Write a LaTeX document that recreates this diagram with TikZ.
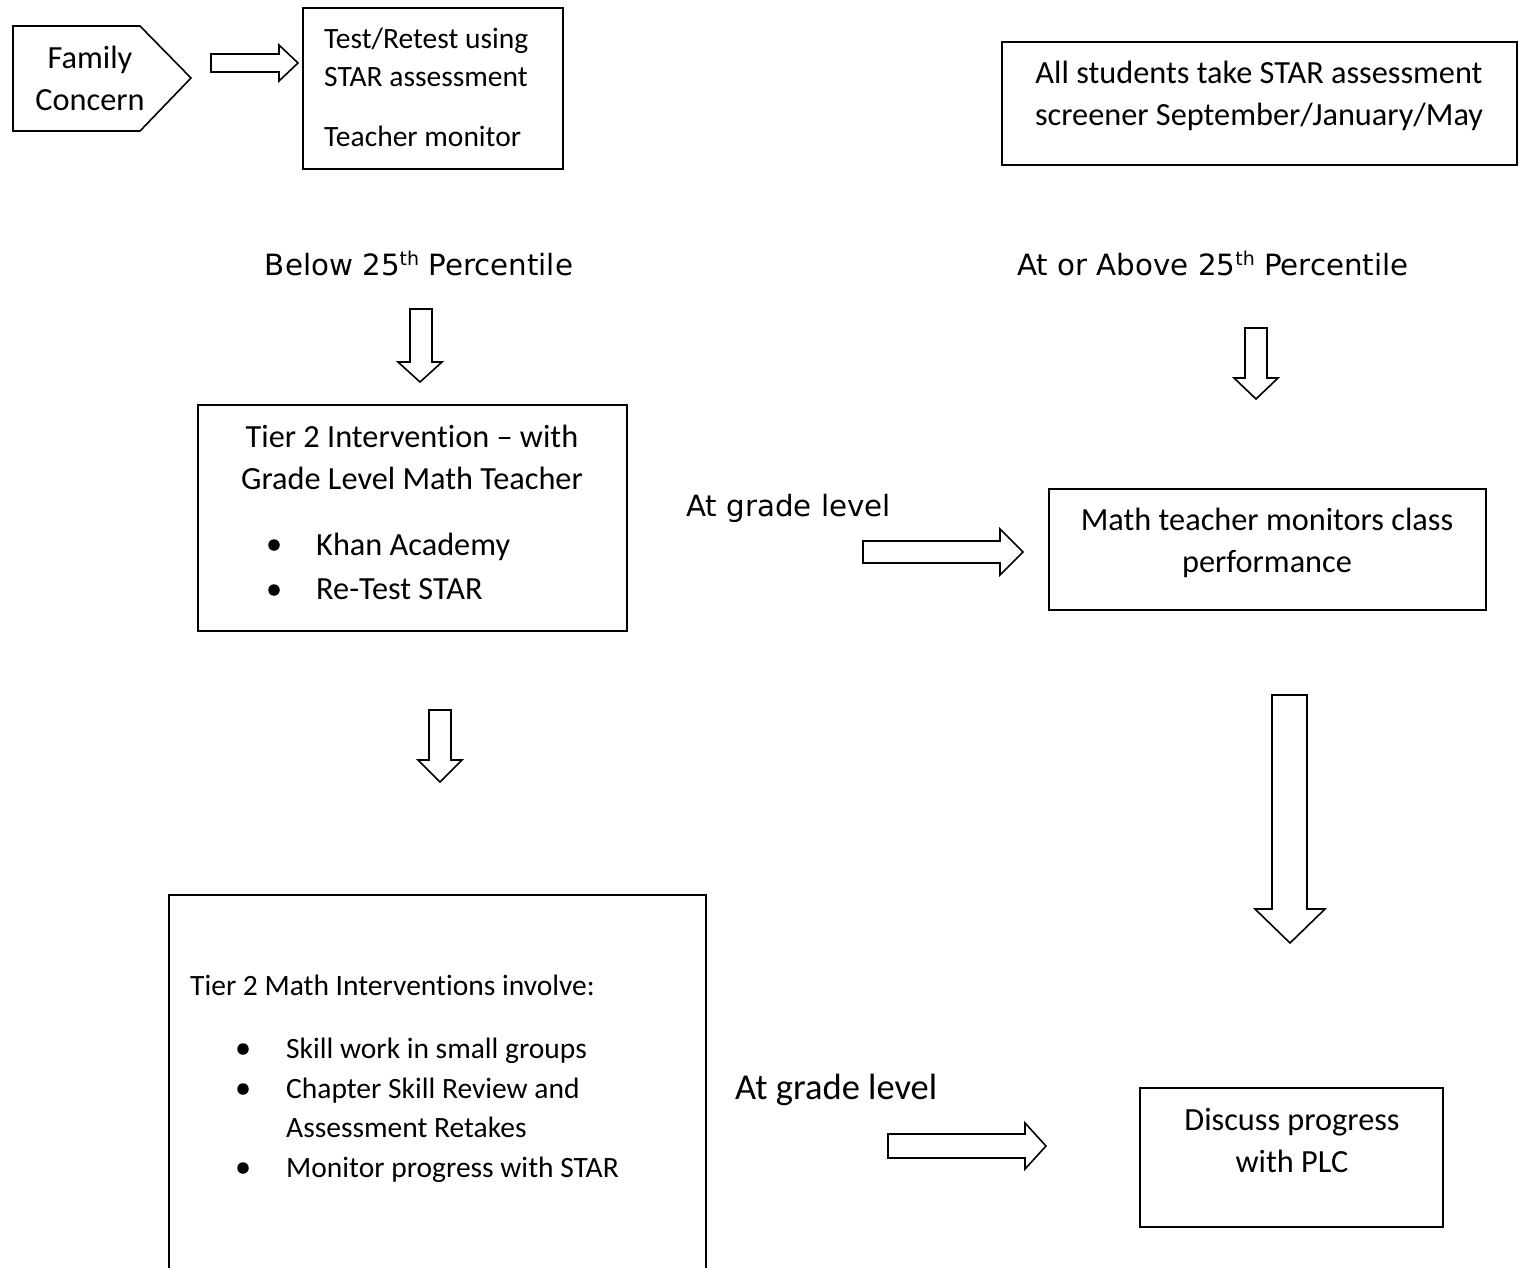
\documentclass[tikz,border=0pt]{standalone}
\usepackage{fontspec}
\setmainfont{Carlito}[Ligatures=CommonOff]
\newfontfamily\verd{DejaVu Sans}
\begin{document}
\begin{tikzpicture}[x=1pt,y=-1pt,
  box/.style={draw,line width=1.6pt,inner sep=0pt,minimum width=#1},
  blockarrow/.style={draw,line width=1.6pt,line join=miter},
  txt/.style={inner sep=0pt,font=\fontsize{32.3}{42}\selectfont},
  txts/.style={inner sep=0pt,font=\fontsize{29.5}{38}\selectfont},
  vtxt/.style={inner sep=0pt,font=\verd\fontsize{29.3}{34}\selectfont},
  bul/.style={circle,fill,inner sep=0pt,minimum size=11.5pt}]
\useasboundingbox (0,0) rectangle (1528,1267);
\clip (0,0) rectangle (1528,1267);

% Family Concern pentagon
\draw[blockarrow] (13,26) -- (140,26) -- (191,78) -- (140,131) -- (13,131) -- cycle;
\node[txt,anchor=base] (fam1) at (90,68) {Family};
\node[txt,anchor=base] (fam2) at (90,110) {Concern};

% small right arrow
\draw[blockarrow] (211,54) -- (279,54) -- (279,45) -- (298,63) -- (279,81) -- (279,72) -- (211,72) -- cycle;

% Test/Retest box
\node[box=260pt,minimum height=161pt] (test) at (433,88.5) {};
\node[txts,anchor=base west] (t1) at (324,48) {Test/Retest using};
\node[txts,anchor=base west] (t2) at (324,86) {STAR assessment};
\node[txts,anchor=base west] (t3) at (324,146) {Teacher monitor};

% All students box
\node[box=515pt,minimum height=123pt] (all) at (1259.5,103.5) {};
\node[txt,anchor=base] (a1) at (1259,83) {All students take STAR assessment};
\node[txt,anchor=base] (a2) at (1259,125) {screener September/January/May};

% labels
\node[vtxt,anchor=base] (below) at (419,275) {Below 25\raisebox{10pt}{\fontsize{19}{19}\selectfont th} Percentile};
\node[vtxt,anchor=base] (above) at (1213,275) {At or Above 25\raisebox{10pt}{\fontsize{19}{19}\selectfont th} Percentile};

% down arrow 1
\draw[blockarrow] (410,309) -- (432,309) -- (432,362) -- (442,362) -- (420,382) -- (398,362) -- (410,362) -- cycle;
% down arrow 2
\draw[blockarrow] (1245,328) -- (1267,328) -- (1267,378) -- (1278,378) -- (1256,399) -- (1234,378) -- (1245,378) -- cycle;

% Tier 2 Intervention box
\node[box=429pt,minimum height=226pt] (tier) at (412.5,518) {};
\node[txt,anchor=base] (ti1) at (412,447) {Tier 2 Intervention -- with};
\node[txt,anchor=base] (ti2) at (412,489) {Grade Level Math Teacher};
\node[bul] (b1) at (274,545) {};
\node[bul] (b2) at (274,590) {};
\node[txt,anchor=base west] (ti3) at (316,555) {Khan Academy};
\node[txt,anchor=base west] (ti4) at (316,599) {Re-Test STAR};

% At grade level 1
\node[vtxt,anchor=base west] (agl1) at (686,516) {At grade level};
\draw[blockarrow] (863,541) -- (1000,541) -- (1000,529) -- (1023,552) -- (1000,575) -- (1000,563) -- (863,563) -- cycle;

% Math teacher box
\node[box=437pt,minimum height=121pt] (math) at (1267.5,549.5) {};
\node[txt,anchor=base] (m1) at (1267,530) {Math teacher monitors class};
\node[txt,anchor=base] (m2) at (1267,572) {performance};

% down arrow 3
\draw[blockarrow] (429,710) -- (451,710) -- (451,760) -- (462,760) -- (440,782) -- (418,760) -- (429,760) -- cycle;
% big down arrow
\draw[blockarrow] (1272,695) -- (1307,695) -- (1307,909) -- (1325,909) -- (1290,943) -- (1255,909) -- (1272,909) -- cycle;

% Tier 2 Math box (cut off at bottom)
\node[box=537pt,minimum height=395pt] (tierm) at (437.5,1092.5) {};
\node[txts,anchor=base west] (tm0) at (190,995) {Tier 2 Math Interventions involve:};
\node[bul] (c1) at (243,1049) {};
\node[bul] (c2) at (243,1089) {};
\node[bul] (c3) at (243,1168) {};
\node[txts,anchor=base west] (tm1) at (286,1058) {Skill work in small groups};
\node[txts,anchor=base west] (tm2) at (286,1098) {Chapter Skill Review and};
\node[txts,anchor=base west] (tm3) at (286,1137) {Assessment Retakes};
\node[txts,anchor=base west] (tm4) at (286,1177) {Monitor progress with STAR};

% At grade level 2
\node[inner sep=0pt,font=\fontsize{36.5}{40}\selectfont,anchor=base west] (agl2) at (735,1099) {At grade level};
\draw[blockarrow] (888,1134) -- (1025,1134) -- (1025,1123) -- (1046,1146) -- (1025,1169) -- (1025,1158) -- (888,1158) -- cycle;

% Discuss box
\node[box=303pt,minimum height=139pt] (disc) at (1291.5,1157.5) {};
\node[txt,anchor=base] (d1) at (1292,1130) {Discuss progress};
\node[txt,anchor=base] (d2) at (1292,1172) {with PLC};
\end{tikzpicture}
\end{document}
